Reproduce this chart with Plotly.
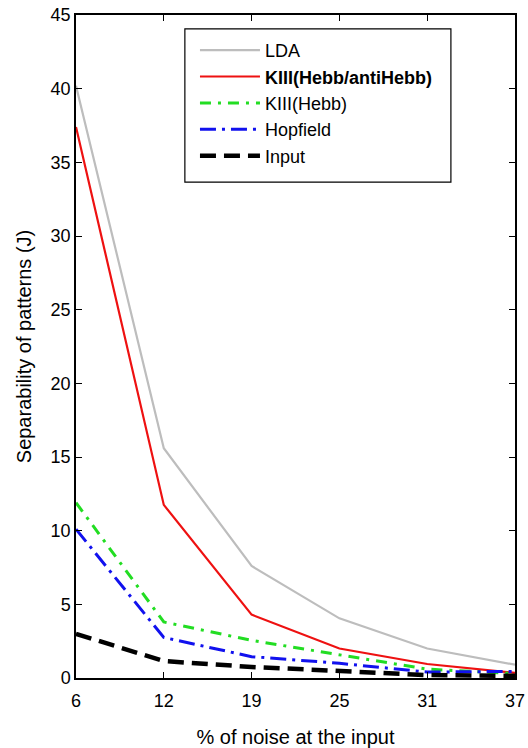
import plotly.graph_objects as go

noise_labels = ["6", "12", "19", "25", "31", "37"]
lda = [40.2, 15.6, 7.6, 4.05, 2.0, 0.9]
kiii_hebb_anti = [37.4, 11.75, 4.3, 2.0, 0.95, 0.35]
kiii_hebb = [11.9, 3.8, 2.55, 1.6, 0.6, 0.3]
hopfield = [10.1, 2.75, 1.45, 1.0, 0.4, 0.45]
input_vals = [3.0, 1.15, 0.75, 0.45, 0.2, 0.15]

x = list(range(len(noise_labels)))

fig = go.Figure()
fig.add_trace(go.Scatter(x=x, y=lda, mode="lines", name="LDA",
                         line=dict(color="#bdbdbd", width=2.2)))
fig.add_trace(go.Scatter(x=x, y=kiii_hebb_anti, mode="lines", name="<b>KIII(Hebb/antiHebb)</b>",
                         line=dict(color="#ee1111", width=2.2)))
fig.add_trace(go.Scatter(x=x, y=kiii_hebb, mode="lines", name="KIII(Hebb)",
                         line=dict(color="#22dd22", width=3, dash="11px,7px,3px,7px")))
fig.add_trace(go.Scatter(x=x, y=hopfield, mode="lines", name="Hopfield",
                         line=dict(color="#1111ee", width=3, dash="16px,6px,3px,6px")))
fig.add_trace(go.Scatter(x=x, y=input_vals, mode="lines", name="Input",
                         line=dict(color="black", width=4.5, dash="16px,8px")))

# legend frame (MATLAB-style box)
fig.add_shape(type="rect", xref="paper", yref="paper",
              x0=0.248, x1=0.854, y0=0.748, y1=0.979,
              line=dict(color="black", width=1.2), fillcolor="white", layer="below")

fig.update_layout(
    width=528, height=748,
    margin=dict(l=76, r=13, t=15, b=70),
    paper_bgcolor="white", plot_bgcolor="white",
    font=dict(family="Liberation Sans, Arial, sans-serif", size=18, color="black"),
    showlegend=True,
    legend=dict(x=0.271, y=0.9745, xanchor="left", yanchor="top",
                borderwidth=0, bgcolor="rgba(0,0,0,0)", itemwidth=60,
                font=dict(size=18), tracegroupgap=0),
    xaxis=dict(range=[0, 5], tickmode="array", tickvals=x, ticktext=noise_labels,
               ticks="inside", ticklen=6, tickcolor="black", showline=True,
               linecolor="black", linewidth=1.5, mirror="ticks", showgrid=False,
               zeroline=False, ticklabelstandoff=6, automargin=False,
               title=dict(text="% of noise at the input", font=dict(size=20), standoff=20)),
    yaxis=dict(range=[0, 45], tickmode="array", tickvals=list(range(0, 46, 5)),
               ticks="inside", ticklen=6, tickcolor="black", showline=True,
               linecolor="black", linewidth=1.5, mirror="ticks", showgrid=False,
               zeroline=False, automargin=False,
               title=dict(text="Separability of patterns (J)", font=dict(size=20), standoff=14)),
)

fig.write_html("out.html")
